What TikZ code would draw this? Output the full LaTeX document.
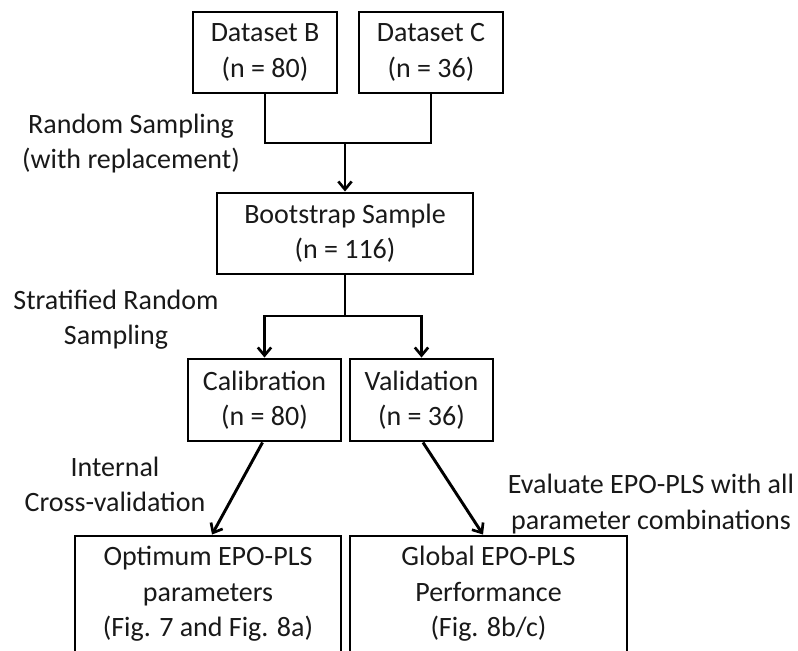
\documentclass[tikz,border=0pt]{standalone}
\usepackage{fontspec}
\setmainfont{Carlito}
\usetikzlibrary{arrows.meta,calc}
\begin{document}
\begin{tikzpicture}[x=0.75pt,y=-0.75pt,
  txt/.style={font=\fontsize{21}{26.5}\selectfont, text=black!90},
  box/.style={txt, draw, line width=2.2pt, rectangle, align=center, inner sep=0pt},
  lbl/.style={txt, align=center, inner sep=0pt},
  flow/.style={line width=2.2pt, line join=miter},
  arr/.style={flow, -{Straight Barb[length=6pt,width=10pt,line width=2pt]}}]

  % canvas
  \fill[white] (0,0) rectangle (798,650);
  \clip (0,0) rectangle (798,650);

  % boxes
  \node[box, minimum width=108pt, minimum height=60.75pt] (B) at (265,52.5) {Dataset B\\(n = 80)};
  \node[box, minimum width=108pt, minimum height=60.75pt] (C) at (431,52.5) {Dataset C\\(n = 36)};
  \node[box, minimum width=192pt, minimum height=60.75pt] (Boot) at (345,233.5) {Bootstrap Sample\\(n = 116)};
  \node[box, minimum width=114.75pt, minimum height=61.5pt] (Cal) at (264.5,400) {Calibration\\(n = 80)};
  \node[box, minimum width=107.25pt, minimum height=61.5pt] (Val) at (421.5,400) {Validation\\(n = 36)};
  \node[box, minimum width=199.5pt, minimum height=87pt] (Opt) at (208,594) {Optimum EPO-PLS\\parameters\\(Fig. 7 and Fig. 8a)};
  \node[box, minimum width=207.75pt, minimum height=87pt] (Glob) at (488.5,594) {Global EPO-PLS\\Performance\\(Fig. 8b/c)};

  % connectors
  \coordinate (j1) at (345,143);
  \draw[flow] (B.south) |- (j1) -| (C.south);
  \draw[arr] (j1) -- (Boot.north);

  \coordinate (j2) at (345,316);
  \draw[flow] (Boot.south) -- (j2);
  \draw[arr] (j2) -| (Cal.north);
  \draw[arr] (j2) -| (Val.north);

  \draw[arr] ($(Cal.south)+(-2,0)$) -- ($(Opt.north)+(4,0)$);
  \draw[arr] ($(Val.south)+(1.5,0)$) -- ($(Glob.north)+(-5.5,0)$);

  % step labels
  \node[lbl] (rs) at (131,143.5) {Random Sampling\\(with replacement)};
  \node[lbl] (srs) at (116,319.5) {Stratified Random\\Sampling};
  \node[lbl] (icv) at (115,484.5) {Internal\\Cross-validation};
  \node[lbl] (ev) at (651,504) {Evaluate EPO-PLS with all\\parameter combinations};
\end{tikzpicture}
\end{document}
